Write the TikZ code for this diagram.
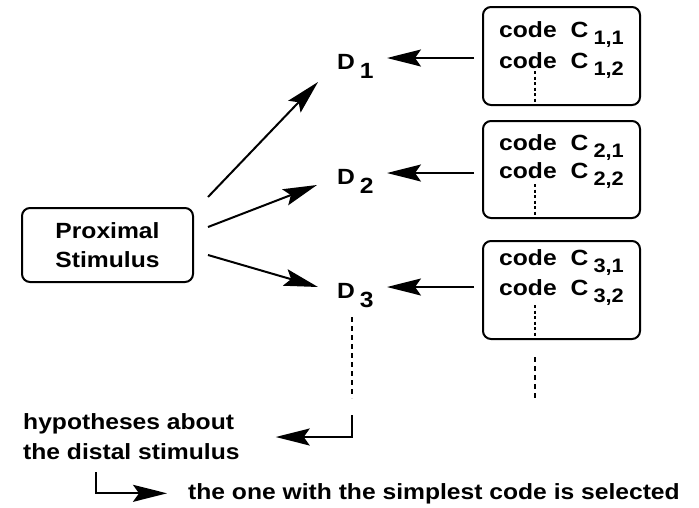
\documentclass[tikz,border=0pt]{standalone}
\usepackage{fontspec}
\setmainfont[FakeStretch=1.12]{Liberation Sans}
\usetikzlibrary{arrows.meta,calc}
\begin{document}
\begin{tikzpicture}[x=1pt,y=-1pt,
  font=\fontsize{22}{29}\selectfont\bfseries,
  box/.style={draw, line width=2pt, rounded corners=8pt, inner sep=0pt},
  arr/.style={line width=2pt, -{Stealth[length=34pt,width=17pt,inset=6pt]}},
  txt/.style={inner sep=0pt, anchor=base west},
  thindash/.style={line width=1.1pt, dash pattern=on 3pt off 2.5pt},
  thickdash/.style={line width=2pt, dash pattern=on 5pt off 4pt}]
\useasboundingbox (0,0) rectangle (699,507);

% proximal stimulus
\node[box, minimum width=171pt, minimum height=74pt, align=center] (prox) at (107.5,245) {Proximal\\Stimulus};

% distal hypotheses
\node[txt] (d1) at (337,69) {D\hspace{5pt}\raisebox{-9pt}{1}};
\node[txt] (d2) at (337,184) {D\hspace{5pt}\raisebox{-9pt}{2}};
\node[txt] (d3) at (337,298) {D\hspace{5pt}\raisebox{-9pt}{3}};

% code boxes
\node[box, minimum width=157pt, minimum height=98pt] (cb1) at (561.5,56) {};
\node[box, minimum width=157pt, minimum height=97pt] (cb2) at (561.5,169.5) {};
\node[box, minimum width=157pt, minimum height=98pt] (cb3) at (561.5,290) {};

\newcommand{\codeline}[2]{code\hspace{14pt}C\hspace{5pt}\raisebox{-7pt}{\fontsize{19.5}{19.5}\selectfont #1,#2}}
\node[txt] (c11) at (499,37) {\codeline{1}{1}};
\node[txt] (c12) at (499,68) {\codeline{1}{2}};
\node[txt] (c21) at (499,150) {\codeline{2}{1}};
\node[txt] (c22) at (499,178) {\codeline{2}{2}};
\node[txt] (c31) at (499,265) {\codeline{3}{1}};
\node[txt] (c32) at (499,295) {\codeline{3}{2}};

% dotted continuations inside boxes
\foreach \b in {cb1,cb2,cb3}
  \draw[thindash] ($(\b.south west)+(53,-35)$) -- ($(\b.south west)+(53,-3)$);

% column continuation
\coordinate (colA) at ($(cb3.south west)+(53,17)$);
\coordinate (colB) at ($(cb3.south west)+(53,58)$);
\draw[thickdash] (colA) -- (colB);

% arrows proximal -> D
\draw[arr] ($(prox.north east)+(14,-10)$) -- ($(d1.base west)+(-19,13)$);
\draw[arr] ($(prox.east)+(14,-18)$) -- ($(d2.base west)+(-20,1)$);
\draw[arr] ($(prox.east)+(14,10)$) -- ($(d3.base west)+(-19,-11)$);

% arrows code boxes -> D
\draw[arr] ($(cb1.west)+(-8,2)$) -- ($(d1.base west)+(50,-11)$);
\draw[arr] ($(cb2.west)+(-8,3.5)$) -- ($(d2.base west)+(50,-11)$);
\draw[arr] ($(cb3.west)+(-8,-3)$) -- ($(d3.base west)+(50,-11)$);

% hypotheses
\node[inner sep=0pt, anchor=west, align=left, font=\fontsize{22}{30}\selectfont\bfseries] (hyp) at (23,437) {hypotheses about\\the distal stimulus};
\node[txt] (sel) at (188,499) {the one with the simplest code is selected};

\coordinate (dA) at ($(d3.base west)+(15,19)$);
\coordinate (dB) at ($(d3.base west)+(15,100)$);
\coordinate (dC) at ($(d3.base west)+(15,117)$);
\draw[thickdash] (dA) -- (dB);
\draw[arr] (dC) |- ($(hyp.east)+(36,0)$);

\coordinate (hB) at ($(hyp.south west)+(73,12)$);
\draw[arr] (hB) |- ($(sel.west)+(-21,0)$);
\end{tikzpicture}
\end{document}
